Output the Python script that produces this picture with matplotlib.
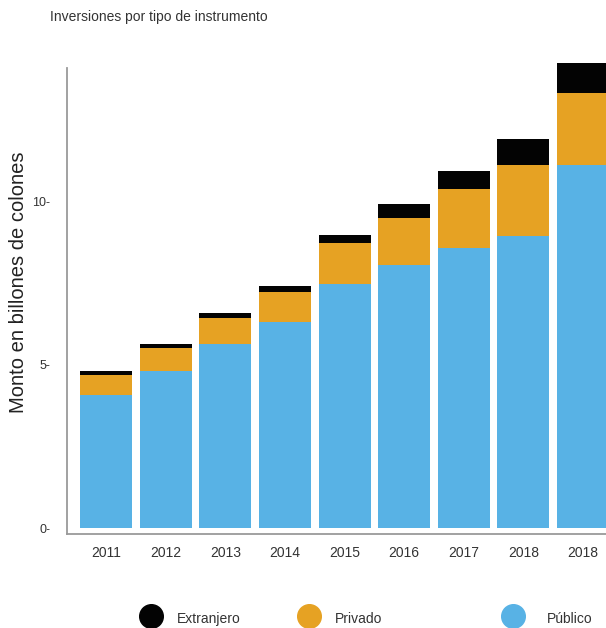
import matplotlib
matplotlib.use("Agg")
import matplotlib.pyplot as plt
from matplotlib.lines import Line2D
import numpy as np

plt.rcParams['font.family'] = ['Liberation Sans', 'DejaVu Sans']

# Inversiones por tipo de instrumento (billones de colones)
years = ["2011", "2012", "2013", "2014", "2015", "2016", "2017", "2018", "2018"]
publico = [4.08, 4.82, 5.65, 6.32, 7.49, 8.06, 8.59, 8.95, 11.12]
privado = [0.61, 0.70, 0.79, 0.91, 1.25, 1.44, 1.79, 2.17, 2.19]
extranjero = [0.13, 0.12, 0.15, 0.19, 0.24, 0.42, 0.55, 0.79, 0.93]

series_names = ["Extranjero", "Privado", "Público"]
colors = {"Público": "#58B2E5", "Privado": "#E6A223", "Extranjero": "#030303"}
text_color = "#333333"
spine_color = "#9a9a9a"

fig = plt.figure(figsize=(6.06, 6.28), dpi=100)
ax = fig.add_axes([0.1106, 0.1497, 0.9125, 0.7420])

x = np.arange(len(years))
pub = np.array(publico)
pri = np.array(privado)
ext = np.array(extranjero)
width = 0.872

ax.bar(x, pub, width, color=colors["Público"], linewidth=0, clip_on=False)
ax.bar(x, pri, width, bottom=pub, color=colors["Privado"], linewidth=0, clip_on=False)
ax.bar(x, ext, width, bottom=pub + pri, color=colors["Extranjero"], linewidth=0, clip_on=False)

ax.set_xlim(-0.654, 8.62)
ax.set_ylim(-0.168, 14.08)

ax.set_xticks(x)
ax.set_xticklabels(years, fontsize=10, color=text_color)
ax.set_yticks([0, 5, 10])
ax.set_yticklabels(["0-", "5-", "10-"], fontsize=9, color=text_color)
ax.tick_params(axis="x", length=0, pad=9)
ax.tick_params(axis="y", length=0, pad=12)

for side in ("top", "right"):
    ax.spines[side].set_visible(False)
for side in ("left", "bottom"):
    ax.spines[side].set_color(spine_color)
    ax.spines[side].set_linewidth(1.3)

fig.text(50 / 606, 1 - 17 / 628, "Inversiones por tipo de instrumento",
         fontsize=10, color=text_color, ha="left", va="center")
fig.text(19 / 606, 1 - 282 / 628, "Monto en billones de colones",
         fontsize=14.5, color="#222222", rotation=90, ha="center", va="center")

# Legend keys drawn as circles with labels
legend_items = [("Extranjero", 151, 177), ("Privado", 309, 335), ("Público", 513, 547)]
for name, cx, tx in legend_items:
    fig.add_artist(Line2D([cx / 606], [1 - 616 / 628], marker="o", markersize=17,
                          color=colors[name], linestyle="none",
                          transform=fig.transFigure))
    fig.text(tx / 606, 1 - 619 / 628, name, fontsize=10, color=text_color,
             ha="left", va="center")

fig.savefig("out.png", dpi=100)
